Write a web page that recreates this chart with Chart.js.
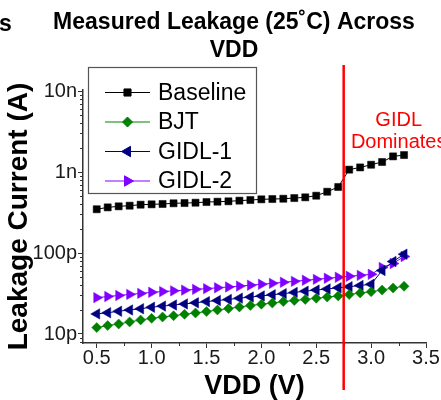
<!DOCTYPE html>
<html>
<head>
<meta charset="utf-8">
<script src="https://cdn.jsdelivr.net/npm/chart.js@4"></script>
<style>
  html, body { margin: 0; padding: 0; background: #fff; }
  #wrap { width: 441px; height: 400px; position: relative; }
</style>
</head>
<body>
<div id="wrap"><canvas id="c" width="441" height="400"></canvas></div>
<script>
// ---- data ----
const vdd = [0.5, 0.6, 0.7, 0.8, 0.9, 1.0, 1.1, 1.2, 1.3, 1.4, 1.5, 1.6, 1.7, 1.8, 1.9, 2.0,
             2.1, 2.2, 2.3, 2.4, 2.5, 2.6, 2.7, 2.8, 2.9, 3.0, 3.1, 3.2, 3.3];
const baseline = [3.47e-10, 3.66e-10, 3.77e-10, 3.84e-10, 3.95e-10, 3.99e-10, 4.03e-10, 4.11e-10,
                  4.14e-10, 4.18e-10, 4.26e-10, 4.30e-10, 4.35e-10, 4.43e-10, 4.51e-10, 4.60e-10,
                  4.64e-10, 4.68e-10, 4.77e-10, 4.87e-10, 5.10e-10, 5.71e-10, 6.53e-10, 1.07e-9,
                  1.14e-9, 1.23e-9, 1.33e-9, 1.56e-9, 1.62e-9];
const bjt = [1.20e-11, 1.27e-11, 1.33e-11, 1.41e-11, 1.49e-11, 1.56e-11, 1.62e-11, 1.68e-11,
             1.75e-11, 1.82e-11, 1.89e-11, 1.98e-11, 2.06e-11, 2.15e-11, 2.25e-11, 2.33e-11,
             2.41e-11, 2.51e-11, 2.59e-11, 2.67e-11, 2.76e-11, 2.86e-11, 2.95e-11, 3.07e-11,
             3.21e-11, 3.33e-11, 3.49e-11, 3.70e-11, 3.88e-11];
const gidl1 = [1.77e-11, 1.83e-11, 1.91e-11, 1.98e-11, 2.05e-11, 2.14e-11, 2.21e-11, 2.28e-11,
               2.35e-11, 2.43e-11, 2.51e-11, 2.59e-11, 2.67e-11, 2.77e-11, 2.86e-11, 2.95e-11,
               3.05e-11, 3.15e-11, 3.26e-11, 3.38e-11, 3.49e-11, 3.60e-11, 3.72e-11, 3.84e-11,
               3.97e-11, 4.11e-11, 6.08e-11, 7.85e-11, 9.67e-11];
const gidl2 = [2.81e-11, 2.90e-11, 2.99e-11, 3.08e-11, 3.17e-11, 3.27e-11, 3.34e-11, 3.41e-11,
               3.48e-11, 3.56e-11, 3.63e-11, 3.72e-11, 3.81e-11, 3.90e-11, 4.00e-11, 4.11e-11,
               4.22e-11, 4.35e-11, 4.47e-11, 4.60e-11, 4.73e-11, 4.87e-11, 5.01e-11, 5.16e-11,
               5.30e-11, 5.46e-11, 6.62e-11, 7.42e-11, 9.05e-11];
const seriesNames = ['Baseline', 'BJT', 'GIDL-1', 'GIDL-2'];
const xTickValues = [0.5, 1.0, 1.5, 2.0, 2.5, 3.0, 3.5];
const xMinorTickValues = [0.75, 1.25, 1.75, 2.25, 2.75, 3.25];
const yTickValues = [1e-11, 1e-10, 1e-9, 1e-8];
const yTickLabels = ['10p', '100p', '1n', '10n'];
const gidlOnsetVdd = 2.75;
const annotationLines = ['GIDL', 'Dominates'];
const titleLines = ['Measured Leakage (25\u02DAC) Across', 'VDD'];
const neighbourTitleFragment = 's';

const FONT = '"Liberation Sans", Arial, Helvetica, sans-serif';

const mk = (ys) => vdd.map((x, i) => ({ x: x, y: ys[i] }));

const styles = [
  { color: '#000000', pointStyle: 'rect', radius: 5, rotation: 0 },
  { color: '#008000', pointStyle: 'rectRot', radius: 5, rotation: 0 },
  { color: '#000080', pointStyle: 'triangle', radius: 6, rotation: -90 },
  { color: '#8000FF', pointStyle: 'triangle', radius: 6, rotation: 90 }
];
const seriesData = [baseline, bjt, gidl1, gidl2];

const datasets = seriesData.map((ys, i) => ({
  label: seriesNames[i],
  data: mk(ys),
  borderColor: styles[i].color,
  backgroundColor: styles[i].color,
  borderWidth: 1,
  pointStyle: styles[i].pointStyle,
  pointRadius: styles[i].radius,
  pointRotation: styles[i].rotation,
  pointBackgroundColor: styles[i].color,
  pointBorderColor: styles[i].color,
  pointBorderWidth: 0.5,
  tension: 0
}));

const decorPlugin = {
  id: 'decor',
  afterDraw(chart) {
    const ctx = chart.ctx;
    const xs = chart.scales.x, ys = chart.scales.y;
    const area = chart.chartArea;
    ctx.save();
    // minor ticks
    ctx.strokeStyle = '#333';
    ctx.lineWidth = 1;
    ctx.beginPath();
    xMinorTickValues.forEach(v => {
      const px = Math.round(xs.getPixelForValue(v)) + 0.5;
      ctx.moveTo(px, area.bottom);
      ctx.lineTo(px, area.bottom + 3);
    });
    for (let e = -12; e <= -8; e++) {
      for (let k = 2; k <= 9; k++) {
        const v = k * Math.pow(10, e);
        if (v < ys.min || v > ys.max) continue;
        const py = Math.round(ys.getPixelForValue(v)) + 0.5;
        ctx.moveTo(area.left, py);
        ctx.lineTo(area.left - 3, py);
      }
    }
    ctx.stroke();

    // y tick labels drawn on top of the axis title (as in the reference)
    ctx.fillStyle = '#1a1a1a';
    ctx.font = '20px ' + FONT;
    ctx.textAlign = 'right';
    ctx.textBaseline = 'middle';
    yTickValues.forEach((v, i) => {
      ctx.fillText(yTickLabels[i], area.left - 6, ys.getPixelForValue(v));
    });

    // red GIDL onset line
    const rx = xs.getPixelForValue(gidlOnsetVdd);
    ctx.strokeStyle = '#ff0000';
    ctx.lineWidth = 2.5;
    ctx.beginPath();
    ctx.moveTo(rx, area.top - 25);
    ctx.lineTo(rx, area.bottom + 47);
    ctx.stroke();

    // annotation
    ctx.fillStyle = '#ff0000';
    ctx.font = '20px ' + FONT;
    ctx.textAlign = 'center';
    ctx.textBaseline = 'middle';
    ctx.fillText(annotationLines[0], rx + 55, area.top + 30);
    ctx.fillText(annotationLines[1], rx + 55, area.top + 52);

    // legend
    const lx = area.left + 5, ly = area.top - 23, lw = 168, lh = 126;
    ctx.fillStyle = '#ffffff';
    ctx.fillRect(lx, ly, lw, lh);
    ctx.strokeStyle = '#555';
    ctx.lineWidth = 1.2;
    ctx.strokeRect(lx + 0.5, ly + 0.5, lw, lh);
    chart.data.datasets.forEach((ds, i) => {
      const cy = area.top + 2.5 + i * 29.5;
      ctx.strokeStyle = ds.borderColor;
      ctx.lineWidth = 1;
      ctx.beginPath();
      ctx.moveTo(area.left + 22, cy);
      ctx.lineTo(area.left + 67, cy);
      ctx.stroke();
      ctx.fillStyle = ds.pointBackgroundColor;
      Chart.helpers.drawPoint(ctx, {
        pointStyle: ds.pointStyle, radius: ds.pointRadius,
        rotation: ds.pointRotation, borderWidth: 0.5
      }, area.left + 44.5, cy);
      ctx.fillStyle = '#000';
      ctx.font = '23px ' + FONT;
      ctx.textAlign = 'left';
      ctx.textBaseline = 'middle';
      ctx.fillText(ds.label, area.left + 75, cy + 1);
    });

    // fragment of neighbouring panel title
    ctx.fillStyle = '#000';
    ctx.font = 'bold 23px ' + FONT;
    ctx.textAlign = 'left';
    ctx.textBaseline = 'alphabetic';
    ctx.fillText(neighbourTitleFragment, -1, 31);
    ctx.restore();
  }
};

new Chart(document.getElementById('c'), {
  type: 'line',
  data: { datasets: datasets },
  plugins: [decorPlugin],
  options: {
    responsive: false,
    animation: false,
    devicePixelRatio: 1,
    layout: { padding: { left: 42, right: 15, top: 0, bottom: 0 } },
    plugins: {
      legend: { display: false },
      tooltip: { enabled: false },
      title: {
        display: true,
        text: titleLines,
        color: '#000',
        font: { family: FONT, size: 23, weight: 'bold', lineHeight: 28 / 23 },
        padding: { top: 9, bottom: 25 }
      }
    },
    scales: {
      x: {
        type: 'linear',
        position: 'bottom',
        min: 0.375,
        max: 3.5,
        afterBuildTicks: (s) => { s.ticks = xTickValues.map(v => ({ value: v })); },
        afterFit: (s) => { s.height = 57; },
        grid: { display: true, drawOnChartArea: false, drawTicks: true, tickLength: 5, color: '#333', lineWidth: 1 },
        border: { display: true, color: '#333', width: 1.5 },
        ticks: {
          color: '#1a1a1a',
          padding: 0,
          maxRotation: 0,
          font: { family: FONT, size: 20, lineHeight: 1 },
          callback: (v) => Number(v).toFixed(1)
        },
        title: {
          display: true,
          text: 'VDD (V)',
          color: '#000',
          font: { family: FONT, size: 27, weight: 'bold', lineHeight: 1 },
          padding: { top: 0, bottom: 0 }
        }
      },
      y: {
        type: 'logarithmic',
        position: 'left',
        min: 7.74e-12,
        max: 1.03e-8,
        afterBuildTicks: (s) => { s.ticks = yTickValues.map(v => ({ value: v })); },
        afterFit: (s) => { s.width = 41; },
        grid: { display: true, drawOnChartArea: false, drawTicks: true, tickLength: 5, color: '#333', lineWidth: 1 },
        border: { display: true, color: '#333', width: 1.5 },
        ticks: {
          color: 'rgba(0,0,0,0)',
          padding: 1,
          font: { family: FONT, size: 20, lineHeight: 1 },
          callback: (v) => {
            const i = yTickValues.findIndex(t => Math.abs(t - v) / t < 1e-6);
            return i >= 0 ? yTickLabels[i] : '';
          }
        },
        title: {
          display: true,
          text: 'Leakage Current (A)',
          color: '#000',
          font: { family: FONT, size: 28, weight: 'bold', lineHeight: 1 },
          padding: { top: -37, bottom: 0 }
        }
      }
    }
  }
});
</script>
</body>
</html>
